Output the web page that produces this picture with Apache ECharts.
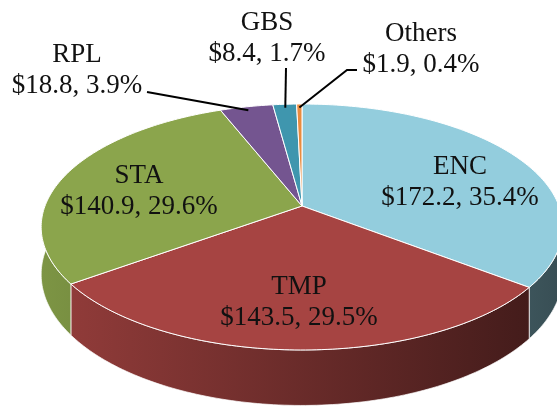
<!DOCTYPE html>
<html>
<head>
<meta charset="utf-8">
<script src="https://cdn.jsdelivr.net/npm/echarts@6/dist/echarts.min.js"></script>
<style>
  html, body { margin: 0; padding: 0; background: #fff; }
  #chart { width: 557px; height: 410px; }
</style>
</head>
<body>
<div id="chart"></div>
<script>
const categories = ['ENC', 'TMP', 'STA', 'RPL', 'GBS', 'Others'];
const amounts = [172.2, 143.5, 140.9, 18.8, 8.4, 1.9];
const shares = [35.4, 29.5, 29.6, 3.9, 1.7, 0.4];
const colors = ['#93CDDD', '#A64442', '#8BA54C', '#745590', '#3F96AE', '#E98B3F'];

// centre of each two-line label block
const labelAt = [[460, 182], [299, 302], [139, 191], [77, 70], [267, 38], [421, 49]];
// leader line start points for the outside labels
const leaderFrom = [null, null, null, [[147, 92]], [[286, 68]], [[357, 70], [347, 70]]];

// tilted disc with a bit of perspective
const CX = 302, CY = 206, R = 257, B = 119.4, H = 46, P = -0.1707;
const total = amounts.reduce((a, b) => a + b, 0);
const starts = [];
let acc = 0;
amounts.forEach((v) => { starts.push(acc / total * 360); acc += v; });

function proj(deg, r, dz) {
  const t = deg * Math.PI / 180;
  const u = r * Math.sin(t), v = -r * Math.cos(t);
  const d = 1 + P * v;
  return [CX + R * u / d, CY + (B * v + H * dz) / d];
}

function arc(a, b, r, dz) {
  const pts = [];
  const n = Math.max(2, Math.ceil(b - a));
  for (let k = 0; k <= n; k++) pts.push(proj(a + (b - a) * k / n, r, dz));
  return pts;
}

function shade(hex, f) {
  const n = parseInt(hex.slice(1), 16);
  const r = Math.round(((n >> 16) & 255) * f);
  const g = Math.round(((n >> 8) & 255) * f);
  const b = Math.round((n & 255) * f);
  return 'rgb(' + r + ',' + g + ',' + b + ')';
}

function renderItem(params, api) {
  const i = params.dataIndex;
  const a0 = starts[i];
  const a1 = a0 + api.value(1) / total * 360;
  const children = [];

  children.push({
    type: 'polygon',
    z2: 5,
    shape: { points: [proj(0, 0, 0)].concat(arc(a0, a1, 1, 0)) },
    style: { fill: colors[i], stroke: '#fff', lineWidth: 1, lineJoin: 'round' }
  });

  const w0 = Math.max(a0, 88), w1 = Math.min(a1, 272);
  if (w1 > w0) {
    children.push({
      type: 'polygon',
      z2: 1,
      shape: { points: arc(w0, w1, 1, 0).concat(arc(w0, w1, 1, 1).reverse()) },
      style: {
        fill: {
          type: 'linear', x: 40, y: 0, x2: 560, y2: 0, global: true,
          colorStops: [
            { offset: 0, color: shade(colors[i], 0.9) },
            { offset: 1, color: shade(colors[i], 0.38) }
          ]
        },
        stroke: 'rgba(255,255,255,0.7)',
        lineWidth: 1
      }
    });
  }

  if (leaderFrom[i]) {
    children.push({
      type: 'polyline',
      z2: 8,
      shape: { points: leaderFrom[i].concat([proj((a0 + a1) / 2, 0.96, 0)]) },
      style: { stroke: '#000', lineWidth: 2, fill: null }
    });
  }

  return { type: 'group', children };
}

const chart = echarts.init(document.getElementById('chart'), null, { renderer: 'canvas' });
chart.setOption({
  animation: false,
  series: [{
    type: 'custom',
    coordinateSystem: 'none',
    silent: true,
    data: amounts.map((v, i) => [i, v]),
    renderItem
  }],
  graphic: categories.map((name, i) => ({
    type: 'text',
    z: 100,
    silent: true,
    x: labelAt[i][0],
    y: labelAt[i][1],
    style: {
      text: name + '\n$' + amounts[i].toFixed(1) + ', ' + shares[i].toFixed(1) + '%',
      align: 'center',
      verticalAlign: 'middle',
      fontFamily: 'Liberation Serif',
      fontSize: 27,
      lineHeight: 31,
      fill: '#111'
    }
  }))
});
</script>
</body>
</html>
